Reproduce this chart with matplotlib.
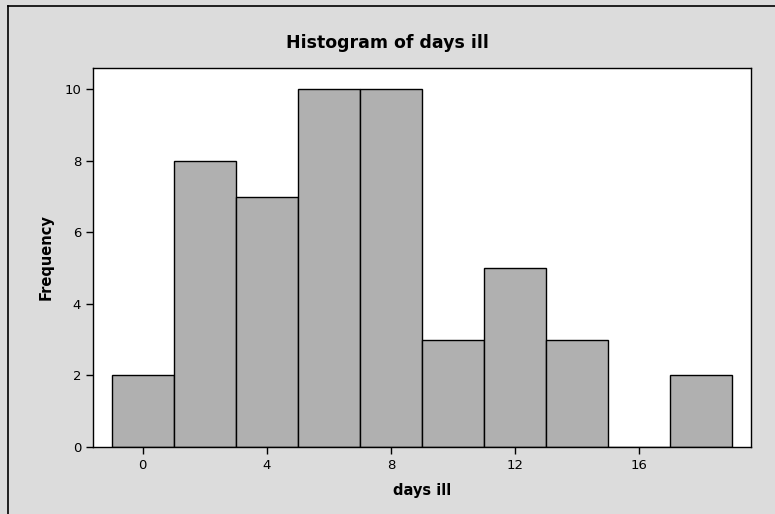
import matplotlib.pyplot as plt
from matplotlib.lines import Line2D

days = [0, 2, 4, 6, 8, 10, 12, 14, 16, 18]
freq = [2, 8, 7, 10, 10, 3, 5, 3, 0, 2]
xticks = [0, 4, 8, 12, 16]
yticks = [0, 2, 4, 6, 8, 10]

W, H = 775, 514
fig = plt.figure(figsize=(7.75, 5.14), dpi=100)
fig.patch.set_facecolor('#dcdcdc')

# axes box in pixels: left 93, right 751, top 68, bottom 447
ax = fig.add_axes([93 / W, 1 - 447 / H, (751 - 93) / W, (447 - 68) / H])
ax.set_facecolor('white')

ax.bar(days, freq, width=2, color='#b0b0b0', edgecolor='black', linewidth=1)

ax.set_xlim(-1.6, 19.6)
ax.set_ylim(0, 10.6)
ax.set_xticks(xticks)
ax.set_yticks(yticks)
ax.tick_params(direction='out', length=5, width=1, labelsize=9.5)
for s in ax.spines.values():
    s.set_linewidth(1)

ax.set_xlabel('days ill', fontsize=10.5, fontweight='bold', labelpad=8)
ax.set_ylabel('Frequency', fontsize=10.5, fontweight='bold', labelpad=8)
fig.text(0.5, 1 - 43 / H, 'Histogram of days ill', ha='center', va='center',
         fontsize=12.5, fontweight='bold')

# outer frame lines (top and left)
fig.add_artist(Line2D([8 / W, 1], [1 - 6 / H, 1 - 6 / H], color='black', lw=1.2))
fig.add_artist(Line2D([8 / W, 8 / W], [0, 1 - 6 / H], color='black', lw=1.2))

fig.savefig('out.png', dpi=100, facecolor=fig.get_facecolor())
